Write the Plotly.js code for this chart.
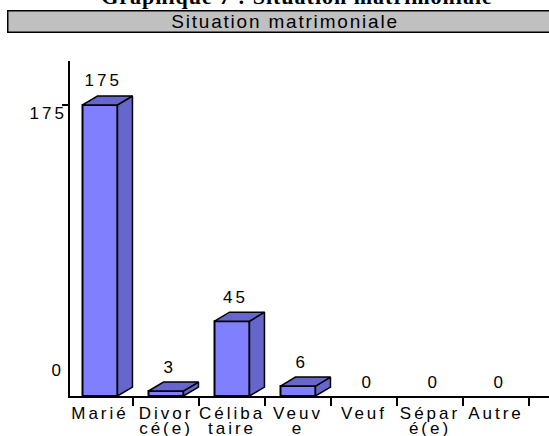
<!DOCTYPE html>
<html>
<head>
<meta charset="utf-8">
<script src="https://cdn.plot.ly/plotly-3.0.1.min.js"></script>
<style>
  html, body { margin: 0; padding: 0; background: #fff; }
  #chart { width: 549px; height: 436px; }
  #chart .annotation-text { letter-spacing: 3px; }
  #chart .annotation[data-index="0"] .annotation-text { letter-spacing: 1.8px; }
  #chart .xtick text, #chart .x2tick text { letter-spacing: 3px; }
  #chart .gtitle { letter-spacing: 1px; }
</style>
</head>
<body>
<div id="chart"></div>
<script>
// ---- data ----
const chartTitle = 'Graphique 7 : Situation matrimoniale';
const headerText = 'Situation matrimoniale';
const categories = ['Marié', 'Divorcé(e)', 'Célibataire', 'Veuve', 'Veuf', 'Séparé(e)', 'Autre'];
const tickLine1 = ['Marié', 'Divor', 'Céliba', 'Veuv', 'Veuf', 'Sépar', 'Autre'];
const tickLine2 = ['', 'cé(e)', 'taire', 'e', '', 'é(e)', ''];
const values = [175, 3, 45, 6, 0, 0, 0];
const yTickVals = [0, 175];

// ---- styling constants ----
const FONT = 'Liberation Sans, Arial, sans-serif';
const BAR_W = 0.53;      // front face width (category units)
const DEPTH_X = 0.227;   // 3D depth offset (category units)
const DEPTH_Y = 5.4;     // 3D depth offset (value units)
const FRONT = '#8080ff';
const SHADE = '#6666cc';
const X_RANGE = [-0.4545, 6.803];

const idx = categories.map((_, i) => i);

// side and top faces derived from the data values
const sideX = [], sideY = [], topX = [], topY = [];
values.forEach((v, i) => {
  if (v <= 0) return;
  const xl = i - BAR_W / 2, xr = i + BAR_W / 2;
  sideX.push(xr, xr, xr + DEPTH_X, xr + DEPTH_X, xr, null);
  sideY.push(0, v, v + DEPTH_Y, DEPTH_Y, 0, null);
  topX.push(xl, xr, xr + DEPTH_X, xl + DEPTH_X, xl, null);
  topY.push(v, v, v + DEPTH_Y, v + DEPTH_Y, v, null);
});

const traces = [
  {
    type: 'bar',
    x: idx,
    y: values.map(v => (v > 0 ? v : null)),
    width: BAR_W,
    marker: { color: FRONT, line: { color: '#000', width: 2 } },
    hoverinfo: 'skip'
  },
  {
    type: 'scatter', mode: 'lines',
    x: sideX, y: sideY, fill: 'toself', fillcolor: SHADE,
    line: { color: '#000', width: 1.5 }, hoverinfo: 'skip'
  },
  {
    type: 'scatter', mode: 'lines',
    x: topX, y: topY, fill: 'toself', fillcolor: SHADE,
    line: { color: '#000', width: 1.5 }, hoverinfo: 'skip'
  },
  { // invisible trace so the second-line label axis is drawn
    type: 'scatter', mode: 'markers', x: [idx[0]], y: [0], xaxis: 'x2', yaxis: 'y',
    marker: { opacity: 0 }, hoverinfo: 'skip'
  }
];

const annotations = [
  {
    text: headerText, xref: 'paper', yref: 'paper',
    x: (285 - 70) / 479, y: (396 - 21) / 335,
    xanchor: 'center', yanchor: 'middle', showarrow: false,
    width: 553, height: 20, bgcolor: '#c0c0c0', bordercolor: '#000',
    borderwidth: 1.5, borderpad: 0,
    font: { family: FONT, size: 19, color: '#000' }
  }
];
values.forEach((v, i) => {
  annotations.push({
    text: String(v), x: i, y: v, xref: 'x', yref: 'y',
    xanchor: 'center', yanchor: 'middle', showarrow: false,
    xshift: 3, yshift: v > 0 ? 24 : 14,
    font: { family: FONT, size: 17, color: '#000' }
  });
});
yTickVals.forEach(t => {
  annotations.push({
    text: String(t), x: 0, y: t, xref: 'paper', yref: 'y',
    xanchor: 'right', yanchor: 'middle', showarrow: false,
    xshift: -6, yshift: t === 0 ? 26 : -9,
    font: { family: FONT, size: 17, color: '#000' }
  });
});

const tickFont = { family: FONT, size: 17, color: '#000' };

const layout = {
  width: 549, height: 436,
  margin: { l: 70, r: 0, t: 61, b: 40, pad: 0 },
  paper_bgcolor: '#fff', plot_bgcolor: '#fff',
  showlegend: false, hovermode: false,
  title: {
    text: chartTitle, xref: 'container', yref: 'container',
    x: 297 / 549, xanchor: 'center', y: 1 - 4 / 436, yanchor: 'bottom',
    pad: { t: 0, b: 0, l: 0, r: 0 },
    font: { family: 'Liberation Serif, Times New Roman, serif', size: 22, weight: 'bold', color: '#000' }
  },
  xaxis: {
    type: 'linear', range: X_RANGE, fixedrange: true,
    showgrid: false, zeroline: false,
    showline: true, linecolor: '#000', linewidth: 2,
    tickmode: 'array', tickvals: idx, ticktext: tickLine1,
    ticks: '', ticklabelstandoff: 1,
    tickfont: tickFont,
    minor: {
      tickmode: 'array', tickvals: idx.map(i => i + 0.5),
      ticks: 'outside', ticklen: 8, tickwidth: 1.5, tickcolor: '#000', showgrid: false
    }
  },
  xaxis2: {
    type: 'linear', range: X_RANGE, fixedrange: true,
    overlaying: 'x', anchor: 'y', side: 'bottom',
    showgrid: false, zeroline: false, showline: false,
    tickmode: 'array', tickvals: idx, ticktext: tickLine2,
    ticks: '', ticklabelstandoff: 20,
    tickfont: tickFont
  },
  yaxis: {
    range: [0, 201.45], fixedrange: true,
    showgrid: false, zeroline: false,
    showline: true, linecolor: '#000', linewidth: 2,
    tickmode: 'array', tickvals: [yTickVals[1]],
    ticks: 'outside', ticklen: 6, tickwidth: 1.5, tickcolor: '#000',
    showticklabels: false
  },
  annotations: annotations
};

Plotly.newPlot('chart', traces, layout, { staticPlot: true, displayModeBar: false });
</script>
</body>
</html>
